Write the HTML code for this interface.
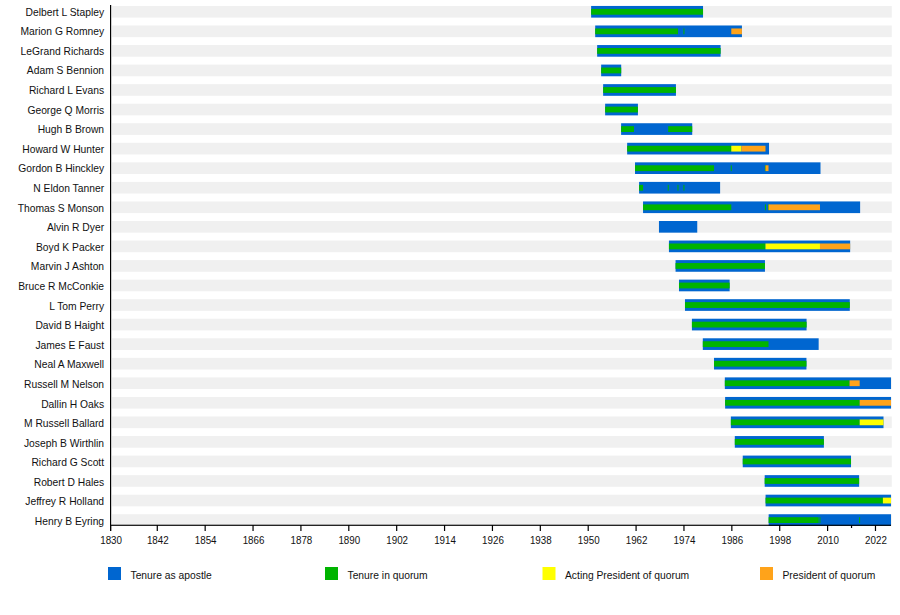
<!DOCTYPE html>
<html><head><meta charset="utf-8"><style>
html,body{margin:0;padding:0;background:#fff;width:900px;height:615px;overflow:hidden}
svg{display:block}
text{font-family:"Liberation Sans",sans-serif;font-size:10.3px;fill:#111}
.tk{font-size:11.2px}
</style></head><body>
<svg width="900" height="615" viewBox="0 0 900 615">
<rect x="112" y="5.95" width="779.8" height="11.65" fill="#f0f0f0"/>
<rect x="112" y="25.50" width="779.8" height="11.65" fill="#f0f0f0"/>
<rect x="112" y="45.05" width="779.8" height="11.65" fill="#f0f0f0"/>
<rect x="112" y="64.60" width="779.8" height="11.65" fill="#f0f0f0"/>
<rect x="112" y="84.15" width="779.8" height="11.65" fill="#f0f0f0"/>
<rect x="112" y="103.70" width="779.8" height="11.65" fill="#f0f0f0"/>
<rect x="112" y="123.25" width="779.8" height="11.65" fill="#f0f0f0"/>
<rect x="112" y="142.80" width="779.8" height="11.65" fill="#f0f0f0"/>
<rect x="112" y="162.35" width="779.8" height="11.65" fill="#f0f0f0"/>
<rect x="112" y="181.90" width="779.8" height="11.65" fill="#f0f0f0"/>
<rect x="112" y="201.45" width="779.8" height="11.65" fill="#f0f0f0"/>
<rect x="112" y="221.00" width="779.8" height="11.65" fill="#f0f0f0"/>
<rect x="112" y="240.55" width="779.8" height="11.65" fill="#f0f0f0"/>
<rect x="112" y="260.10" width="779.8" height="11.65" fill="#f0f0f0"/>
<rect x="112" y="279.65" width="779.8" height="11.65" fill="#f0f0f0"/>
<rect x="112" y="299.20" width="779.8" height="11.65" fill="#f0f0f0"/>
<rect x="112" y="318.75" width="779.8" height="11.65" fill="#f0f0f0"/>
<rect x="112" y="338.30" width="779.8" height="11.65" fill="#f0f0f0"/>
<rect x="112" y="357.85" width="779.8" height="11.65" fill="#f0f0f0"/>
<rect x="112" y="377.40" width="779.8" height="11.65" fill="#f0f0f0"/>
<rect x="112" y="396.95" width="779.8" height="11.65" fill="#f0f0f0"/>
<rect x="112" y="416.50" width="779.8" height="11.65" fill="#f0f0f0"/>
<rect x="112" y="436.05" width="779.8" height="11.65" fill="#f0f0f0"/>
<rect x="112" y="455.60" width="779.8" height="11.65" fill="#f0f0f0"/>
<rect x="112" y="475.15" width="779.8" height="11.65" fill="#f0f0f0"/>
<rect x="112" y="494.70" width="779.8" height="11.65" fill="#f0f0f0"/>
<rect x="112" y="514.25" width="779.8" height="11.65" fill="#f0f0f0"/>
<rect x="591.13" y="5.95" width="111.90" height="11.65" fill="#0066d0"/>
<rect x="591.13" y="8.90" width="111.90" height="5.8" fill="#00b400"/>
<text x="104.1" y="15.70" text-anchor="end">Delbert L Stapley</text>
<rect x="595.20" y="25.50" width="146.73" height="11.65" fill="#0066d0"/>
<rect x="595.20" y="28.45" width="82.81" height="5.8" fill="#00b400"/>
<rect x="683.42" y="28.45" width="1.00" height="5.8" fill="#00b400"/>
<rect x="731.28" y="28.45" width="10.65" height="5.8" fill="#ffa31a"/>
<text x="104.1" y="35.29" text-anchor="end">Marion G Romney</text>
<rect x="597.16" y="45.05" width="123.43" height="11.65" fill="#0066d0"/>
<rect x="597.16" y="48.00" width="123.43" height="5.8" fill="#00b400"/>
<text x="104.1" y="54.88" text-anchor="end">LeGrand Richards</text>
<rect x="601.15" y="64.60" width="20.05" height="11.65" fill="#0066d0"/>
<rect x="601.15" y="67.55" width="20.05" height="5.8" fill="#00b400"/>
<text x="104.1" y="74.47" text-anchor="end">Adam S Bennion</text>
<rect x="603.14" y="84.15" width="72.80" height="11.65" fill="#0066d0"/>
<rect x="603.14" y="87.10" width="72.80" height="5.8" fill="#00b400"/>
<text x="104.1" y="94.06" text-anchor="end">Richard L Evans</text>
<rect x="605.14" y="103.70" width="32.78" height="11.65" fill="#0066d0"/>
<rect x="605.14" y="106.65" width="32.78" height="5.8" fill="#00b400"/>
<text x="104.1" y="113.65" text-anchor="end">George Q Morris</text>
<rect x="621.10" y="123.25" width="71.12" height="11.65" fill="#0066d0"/>
<rect x="621.10" y="126.20" width="12.87" height="5.8" fill="#00b400"/>
<rect x="668.20" y="126.20" width="24.02" height="5.8" fill="#00b400"/>
<text x="104.1" y="133.24" text-anchor="end">Hugh B Brown</text>
<rect x="627.16" y="142.80" width="141.87" height="11.65" fill="#0066d0"/>
<rect x="627.16" y="145.75" width="104.12" height="5.8" fill="#00b400"/>
<rect x="731.28" y="145.75" width="10.21" height="5.8" fill="#ffff00"/>
<rect x="741.50" y="145.75" width="23.98" height="5.8" fill="#ffa31a"/>
<text x="104.1" y="152.83" text-anchor="end">Howard W Hunter</text>
<rect x="635.02" y="162.35" width="185.48" height="11.65" fill="#0066d0"/>
<rect x="635.02" y="165.30" width="79.02" height="5.8" fill="#00b400"/>
<rect x="730.76" y="165.30" width="1.00" height="5.8" fill="#00b400"/>
<rect x="764.92" y="165.30" width="1.00" height="5.8" fill="#00b400"/>
<rect x="765.48" y="165.30" width="3.03" height="5.8" fill="#ffa31a"/>
<text x="104.1" y="172.42" text-anchor="end">Gordon B Hinckley</text>
<rect x="639.09" y="181.90" width="81.02" height="11.65" fill="#0066d0"/>
<rect x="639.09" y="184.85" width="4.01" height="5.8" fill="#00b400"/>
<rect x="667.72" y="184.85" width="1.00" height="5.8" fill="#00b400"/>
<rect x="677.49" y="184.85" width="1.00" height="5.8" fill="#00b400"/>
<rect x="683.42" y="184.85" width="1.00" height="5.8" fill="#00b400"/>
<text x="104.1" y="192.01" text-anchor="end">N Eldon Tanner</text>
<rect x="643.04" y="201.45" width="217.08" height="11.65" fill="#0066d0"/>
<rect x="643.04" y="204.40" width="88.24" height="5.8" fill="#00b400"/>
<rect x="764.94" y="204.40" width="1.00" height="5.8" fill="#00b400"/>
<rect x="767.97" y="204.40" width="1.00" height="5.8" fill="#00b400"/>
<rect x="768.51" y="204.40" width="51.47" height="5.8" fill="#ffa31a"/>
<text x="104.1" y="211.60" text-anchor="end">Thomas S Monson</text>
<rect x="658.96" y="221.00" width="38.29" height="11.65" fill="#0066d0"/>
<text x="104.1" y="231.19" text-anchor="end">Alvin R Dyer</text>
<rect x="668.94" y="240.55" width="181.21" height="11.65" fill="#0066d0"/>
<rect x="668.94" y="243.50" width="96.54" height="5.8" fill="#00b400"/>
<rect x="765.48" y="243.50" width="54.50" height="5.8" fill="#ffff00"/>
<rect x="819.98" y="243.50" width="30.17" height="5.8" fill="#ffa31a"/>
<text x="104.1" y="250.78" text-anchor="end">Boyd K Packer</text>
<rect x="675.56" y="260.10" width="89.40" height="11.65" fill="#0066d0"/>
<rect x="675.56" y="263.05" width="89.40" height="5.8" fill="#00b400"/>
<text x="104.1" y="270.37" text-anchor="end">Marvin J Ashton</text>
<rect x="678.99" y="279.65" width="50.65" height="11.65" fill="#0066d0"/>
<rect x="678.99" y="282.60" width="50.65" height="5.8" fill="#00b400"/>
<text x="104.1" y="289.96" text-anchor="end">Bruce R McConkie</text>
<rect x="684.98" y="299.20" width="164.81" height="11.65" fill="#0066d0"/>
<rect x="684.98" y="302.15" width="164.81" height="5.8" fill="#00b400"/>
<text x="104.1" y="309.55" text-anchor="end">L Tom Perry</text>
<rect x="691.92" y="318.75" width="114.65" height="11.65" fill="#0066d0"/>
<rect x="691.92" y="321.70" width="114.65" height="5.8" fill="#00b400"/>
<text x="104.1" y="329.14" text-anchor="end">David B Haight</text>
<rect x="702.81" y="338.30" width="115.85" height="11.65" fill="#0066d0"/>
<rect x="702.81" y="341.25" width="65.70" height="5.8" fill="#00b400"/>
<text x="104.1" y="348.73" text-anchor="end">James E Faust</text>
<rect x="714.02" y="357.85" width="92.43" height="11.65" fill="#0066d0"/>
<rect x="714.02" y="360.80" width="92.43" height="5.8" fill="#00b400"/>
<text x="104.1" y="368.32" text-anchor="end">Neal A Maxwell</text>
<rect x="724.84" y="377.40" width="166.16" height="11.65" fill="#0066d0"/>
<rect x="724.84" y="380.35" width="124.71" height="5.8" fill="#00b400"/>
<rect x="849.55" y="380.35" width="10.13" height="5.8" fill="#ffa31a"/>
<text x="104.1" y="387.91" text-anchor="end">Russell M Nelson</text>
<rect x="725.12" y="396.95" width="165.88" height="11.65" fill="#0066d0"/>
<rect x="725.12" y="399.90" width="134.56" height="5.8" fill="#00b400"/>
<rect x="859.68" y="399.90" width="31.32" height="5.8" fill="#ffa31a"/>
<text x="104.1" y="407.50" text-anchor="end">Dallin H Oaks</text>
<rect x="730.86" y="416.50" width="152.64" height="11.65" fill="#0066d0"/>
<rect x="730.86" y="419.45" width="128.82" height="5.8" fill="#00b400"/>
<rect x="859.68" y="419.45" width="23.82" height="5.8" fill="#ffff00"/>
<text x="104.1" y="427.09" text-anchor="end">M Russell Ballard</text>
<rect x="734.81" y="436.05" width="89.08" height="11.65" fill="#0066d0"/>
<rect x="734.81" y="439.00" width="89.08" height="5.8" fill="#00b400"/>
<text x="104.1" y="446.68" text-anchor="end">Joseph B Wirthlin</text>
<rect x="742.75" y="455.60" width="108.27" height="11.65" fill="#0066d0"/>
<rect x="742.75" y="458.55" width="108.27" height="5.8" fill="#00b400"/>
<text x="104.1" y="466.27" text-anchor="end">Richard G Scott</text>
<rect x="764.70" y="475.15" width="94.43" height="11.65" fill="#0066d0"/>
<rect x="764.70" y="478.10" width="94.43" height="5.8" fill="#00b400"/>
<text x="104.1" y="485.86" text-anchor="end">Robert D Hales</text>
<rect x="765.58" y="494.70" width="125.42" height="11.65" fill="#0066d0"/>
<rect x="765.58" y="497.65" width="117.33" height="5.8" fill="#00b400"/>
<rect x="882.90" y="497.65" width="8.10" height="5.8" fill="#ffff00"/>
<text x="104.1" y="505.45" text-anchor="end">Jeffrey R Holland</text>
<rect x="768.65" y="514.25" width="122.35" height="11.65" fill="#0066d0"/>
<rect x="768.65" y="517.20" width="50.01" height="5.8" fill="#00b400"/>
<rect x="819.44" y="517.20" width="1.00" height="5.8" fill="#00b400"/>
<rect x="859.10" y="517.20" width="1.00" height="5.8" fill="#00b400"/>
<text x="104.1" y="525.04" text-anchor="end">Henry B Eyring</text>
<rect x="110" y="5" width="1.2" height="526" fill="#000"/>
<rect x="110" y="524.7" width="781" height="1.15" fill="#000"/>
<rect x="110.00" y="525" width="1.2" height="6" fill="#000"/>
<text class="tk" transform="translate(111.10,544) scale(0.875,1)" text-anchor="middle">1830</text>
<rect x="156.68" y="525" width="1.2" height="6" fill="#000"/>
<text class="tk" transform="translate(157.78,544) scale(0.875,1)" text-anchor="middle">1842</text>
<rect x="204.56" y="525" width="1.2" height="6" fill="#000"/>
<text class="tk" transform="translate(205.66,544) scale(0.875,1)" text-anchor="middle">1854</text>
<rect x="252.44" y="525" width="1.2" height="6" fill="#000"/>
<text class="tk" transform="translate(253.54,544) scale(0.875,1)" text-anchor="middle">1866</text>
<rect x="300.32" y="525" width="1.2" height="6" fill="#000"/>
<text class="tk" transform="translate(301.42,544) scale(0.875,1)" text-anchor="middle">1878</text>
<rect x="348.20" y="525" width="1.2" height="6" fill="#000"/>
<text class="tk" transform="translate(349.30,544) scale(0.875,1)" text-anchor="middle">1890</text>
<rect x="396.08" y="525" width="1.2" height="6" fill="#000"/>
<text class="tk" transform="translate(397.18,544) scale(0.875,1)" text-anchor="middle">1902</text>
<rect x="443.96" y="525" width="1.2" height="6" fill="#000"/>
<text class="tk" transform="translate(445.06,544) scale(0.875,1)" text-anchor="middle">1914</text>
<rect x="491.84" y="525" width="1.2" height="6" fill="#000"/>
<text class="tk" transform="translate(492.94,544) scale(0.875,1)" text-anchor="middle">1926</text>
<rect x="539.72" y="525" width="1.2" height="6" fill="#000"/>
<text class="tk" transform="translate(540.82,544) scale(0.875,1)" text-anchor="middle">1938</text>
<rect x="587.60" y="525" width="1.2" height="6" fill="#000"/>
<text class="tk" transform="translate(588.70,544) scale(0.875,1)" text-anchor="middle">1950</text>
<rect x="635.48" y="525" width="1.2" height="6" fill="#000"/>
<text class="tk" transform="translate(636.58,544) scale(0.875,1)" text-anchor="middle">1962</text>
<rect x="683.36" y="525" width="1.2" height="6" fill="#000"/>
<text class="tk" transform="translate(684.46,544) scale(0.875,1)" text-anchor="middle">1974</text>
<rect x="731.24" y="525" width="1.2" height="6" fill="#000"/>
<text class="tk" transform="translate(732.34,544) scale(0.875,1)" text-anchor="middle">1986</text>
<rect x="779.12" y="525" width="1.2" height="6" fill="#000"/>
<text class="tk" transform="translate(780.22,544) scale(0.875,1)" text-anchor="middle">1998</text>
<rect x="827.00" y="525" width="1.2" height="6" fill="#000"/>
<text class="tk" transform="translate(828.10,544) scale(0.875,1)" text-anchor="middle">2010</text>
<rect x="874.88" y="525" width="1.2" height="6" fill="#000"/>
<text class="tk" transform="translate(875.98,544) scale(0.875,1)" text-anchor="middle">2022</text>
<rect x="850.94" y="525" width="1.2" height="3" fill="#000"/>
<rect x="108" y="567" width="13" height="13" fill="#0066d0"/>
<text x="130.5" y="578.7">Tenure as apostle</text>
<rect x="325" y="567" width="13" height="13" fill="#00b400"/>
<text x="347.5" y="578.7">Tenure in quorum</text>
<rect x="542.5" y="567" width="13" height="13" fill="#ffff00"/>
<text x="565.0" y="578.7">Acting President of quorum</text>
<rect x="760" y="567" width="13" height="13" fill="#ffa31a"/>
<text x="782.5" y="578.7">President of quorum</text>
</svg>
</body></html>
